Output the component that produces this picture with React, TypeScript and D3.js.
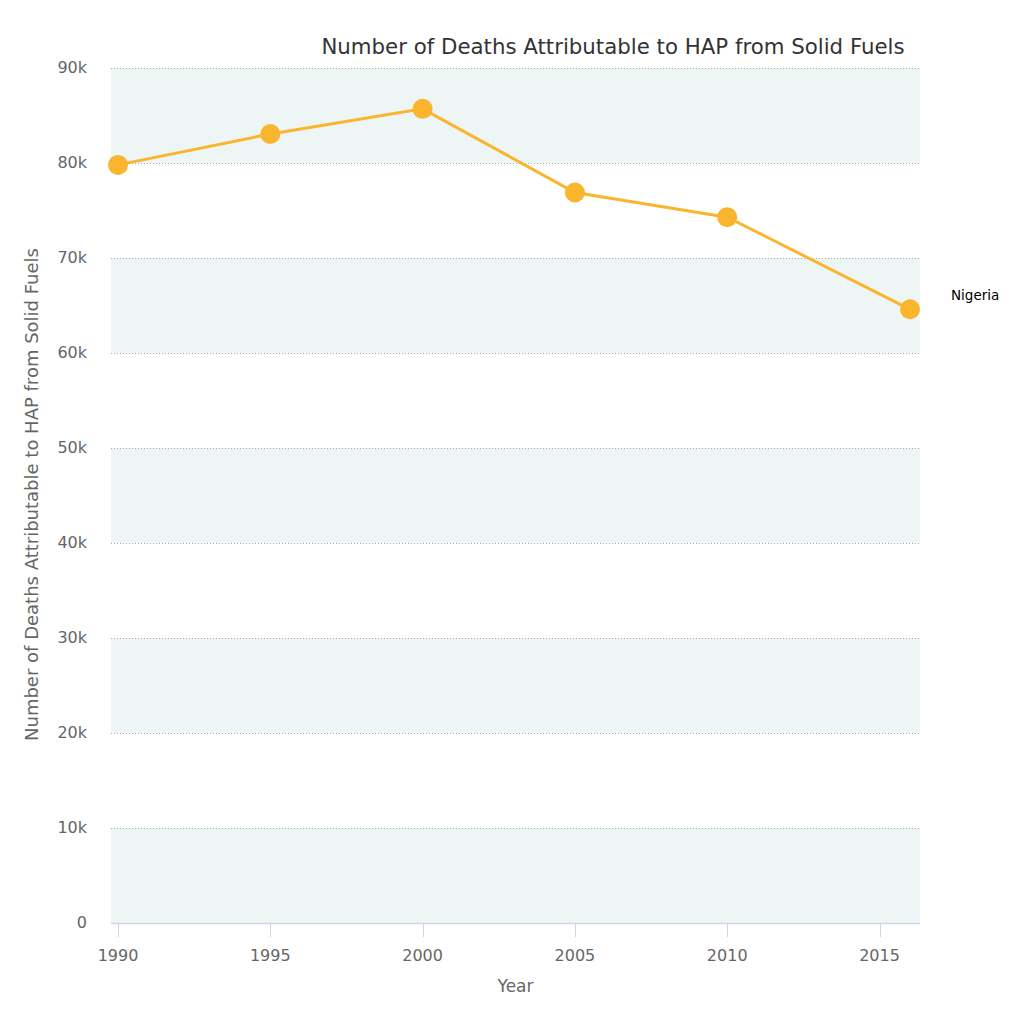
import React, { useEffect, useRef } from 'react';
import * as d3 from 'd3';

const years = [1990, 1995, 2000, 2005, 2010, 2016];
const deaths = [79800, 83050, 85700, 76900, 74300, 64600];
const xTicks = [1990, 1995, 2000, 2005, 2010, 2015];
const yTicks = [0, 10000, 20000, 30000, 40000, 50000, 60000, 70000, 80000, 90000];
const seriesName = 'Nigeria';

const App = () => {
  const svgRef = useRef<SVGSVGElement>(null);

  useEffect(() => {
    const svg = d3.select(svgRef.current);
    svg.selectAll('*').remove();

    const width = 1024;
    const height = 1014;
    const left = 111, right = 920, top = 68, bottom = 923;
    const font = '"DejaVu Sans", sans-serif';

    const x = d3.scaleLinear().domain([1990, 2016]).range([118, 910]);
    const y = d3.scaleLinear().domain([0, 90000]).range([bottom, top]);

    svg.attr('width', width).attr('height', height);

    // alternating bands
    const bands = d3.range(0, yTicks.length - 1, 2);
    svg.append('g')
      .selectAll('rect')
      .data(bands)
      .enter()
      .append('rect')
      .attr('x', left)
      .attr('width', right - left)
      .attr('y', i => y(yTicks[i + 1]))
      .attr('height', i => y(yTicks[i]) - y(yTicks[i + 1]))
      .attr('fill', '#eef6f5');

    // grid lines
    svg.append('g')
      .selectAll('line')
      .data(yTicks.slice(1))
      .enter()
      .append('line')
      .attr('x1', left)
      .attr('x2', right)
      .attr('y1', d => Math.round(y(d)) + 0.5)
      .attr('y2', d => Math.round(y(d)) + 0.5)
      .attr('stroke', '#aaa')
      .attr('stroke-width', 1)
      .attr('stroke-dasharray', '1,2');

    // y tick labels
    svg.append('g')
      .selectAll('text')
      .data(yTicks)
      .enter()
      .append('text')
      .attr('x', 87)
      .attr('y', d => y(d) + 5)
      .attr('text-anchor', 'end')
      .attr('font-family', font)
      .attr('font-size', 16)
      .attr('fill', '#666')
      .text(d => (d === 0 ? '0' : `${d / 1000}k`));

    // x axis
    svg.append('line')
      .attr('x1', left)
      .attr('x2', right)
      .attr('y1', bottom + 0.5)
      .attr('y2', bottom + 0.5)
      .attr('stroke', '#ccd6eb')
      .attr('stroke-width', 1.5);

    const xg = svg.append('g');
    xg.selectAll('line')
      .data(xTicks)
      .enter()
      .append('line')
      .attr('x1', d => Math.round(x(d)) + 0.5)
      .attr('x2', d => Math.round(x(d)) + 0.5)
      .attr('y1', bottom)
      .attr('y2', bottom + 14)
      .attr('stroke', '#ccd6eb');

    xg.selectAll('text')
      .data(xTicks)
      .enter()
      .append('text')
      .attr('x', d => x(d))
      .attr('y', bottom + 38)
      .attr('text-anchor', 'middle')
      .attr('font-family', font)
      .attr('font-size', 16)
      .attr('fill', '#666')
      .text(d => d);

    // axis titles
    svg.append('text')
      .attr('x', (left + right) / 2)
      .attr('y', 992)
      .attr('text-anchor', 'middle')
      .attr('font-family', font)
      .attr('font-size', 17)
      .attr('fill', '#666')
      .text('Year');

    svg.append('text')
      .attr('transform', `translate(38,${(top + bottom) / 2 - 1}) rotate(-90)`)
      .attr('text-anchor', 'middle')
      .attr('font-family', font)
      .attr('font-size', 18)
      .attr('fill', '#666')
      .text('Number of Deaths Attributable to HAP from Solid Fuels');

    // title
    svg.append('text')
      .attr('x', 613)
      .attr('y', 54)
      .attr('text-anchor', 'middle')
      .attr('font-family', font)
      .attr('font-size', 21.3)
      .attr('fill', '#333')
      .text('Number of Deaths Attributable to HAP from Solid Fuels');

    // series
    const points = years.map((yr, i) => ({ yr, v: deaths[i] }));
    const line = d3.line<{ yr: number; v: number }>()
      .x(d => x(d.yr))
      .y(d => y(d.v));

    svg.append('path')
      .datum(points)
      .attr('d', line)
      .attr('fill', 'none')
      .attr('stroke', '#f9b52d')
      .attr('stroke-width', 3);

    svg.append('g')
      .selectAll('circle')
      .data(points)
      .enter()
      .append('circle')
      .attr('cx', d => x(d.yr))
      .attr('cy', d => y(d.v))
      .attr('r', 10)
      .attr('fill', '#f9b52d');

    // series label
    const last = points[points.length - 1];
    svg.append('text')
      .attr('x', 951)
      .attr('y', y(last.v) - 9)
      .attr('font-family', font)
      .attr('font-size', 13.5)
      .attr('fill', '#000')
      .text(seriesName);
  }, []);

  return <svg ref={svgRef} style={{ position: 'absolute', left: 0, top: 0 }}></svg>;
};

export default App;
